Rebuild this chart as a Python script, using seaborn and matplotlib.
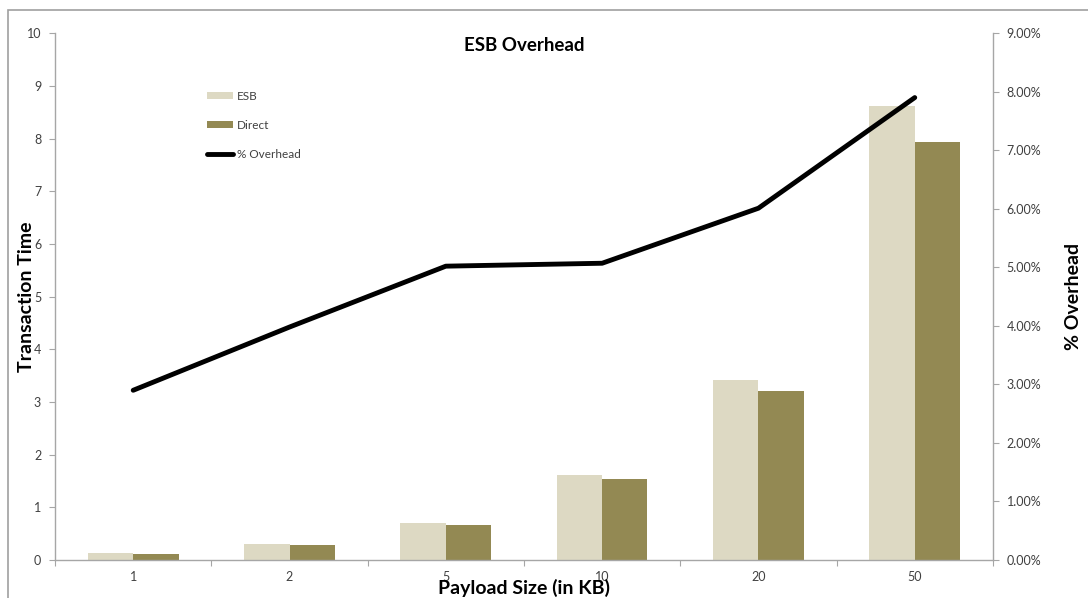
import numpy as np
import pandas as pd
import matplotlib
matplotlib.use("Agg")
import matplotlib.pyplot as plt
from matplotlib.patches import Rectangle
from matplotlib.ticker import FixedLocator, PercentFormatter
import seaborn as sns

# Payload sizes (KB) and measured transaction times
payloads = ["1", "2", "5", "10", "20", "50"]
esb_time = [0.13, 0.30, 0.70, 1.62, 3.42, 8.61]
direct_time = [0.12, 0.28, 0.67, 1.53, 3.21, 7.94]
overhead_pct = [2.90, 3.98, 5.02, 5.07, 6.01, 7.90]

series_names = ["ESB", "Direct"]
bar_colors = ["#DDD9C3", "#938953"]
spine_gray = "#A6A6A6"
text_gray = "#404040"

sns.set_theme(style="white")
plt.rcParams["font.family"] = ["Lato", "DejaVu Sans"]

df = pd.DataFrame({
    "Payload": payloads * 2,
    "Time": esb_time + direct_time,
    "Series": [series_names[0]] * len(payloads) + [series_names[1]] * len(payloads),
})

fig = plt.figure(figsize=(10.88, 5.98), dpi=100)
ax = fig.add_axes([0.0506, 0.0635, 0.862, 0.881])

sns.barplot(data=df, x="Payload", y="Time", hue="Series", order=payloads,
            hue_order=series_names, palette=bar_colors, width=0.58,
            saturation=1, linewidth=0, ax=ax, legend=True)

ax.set_ylim(0, 10)
ax.set_xlim(-0.5, len(payloads) - 0.5)
ax.set_yticks(range(0, 11))

# category boundaries carry the tick marks, centers carry the labels
ax.xaxis.set_major_locator(FixedLocator(np.arange(-0.5, len(payloads), 1.0)))
ax.xaxis.set_minor_locator(FixedLocator(np.arange(len(payloads))))
ax.set_xticklabels([""] * (len(payloads) + 1))
ax.set_xticklabels(payloads, minor=True)
ax.tick_params(axis="x", which="major", length=4, width=0.8, color=spine_gray, direction="out", bottom=True)
ax.tick_params(axis="x", which="minor", length=0, labelsize=9, labelcolor=text_gray, pad=8)
ax.tick_params(axis="y", length=4, width=0.8, color=spine_gray, direction="out", left=True,
               labelsize=9, labelcolor=text_gray, pad=6)

for side in ["top", "right"]:
    ax.spines[side].set_visible(False)
for side in ["left", "bottom"]:
    ax.spines[side].set_color(spine_gray)
    ax.spines[side].set_linewidth(1.0)

ax.set_ylabel("Transaction Time", fontsize=14, fontweight="bold", color="black")
ax.yaxis.set_label_coords(-0.021, 0.5)
ax.set_xlabel("Payload Size (in KB)", fontsize=14, fontweight="bold", color="black")
ax.xaxis.set_label_coords(0.5, -0.036)
ax.set_title("ESB Overhead", fontsize=13.5, fontweight="bold", color="black", pad=-13, y=1.0)

# overhead percentage on a secondary axis
ax2 = ax.twinx()
sns.lineplot(x=np.arange(len(payloads)), y=overhead_pct, color="black", linewidth=3.5,
             ax=ax2, label="% Overhead", legend=False)
ax2.set_ylim(0, 9)
ax2.set_xlim(-0.5, len(payloads) - 0.5)
ax2.set_yticks(range(0, 10))
ax2.yaxis.set_major_formatter(PercentFormatter(decimals=2))
ax2.tick_params(axis="y", length=4, width=0.8, color=spine_gray, direction="out", right=True,
                labelsize=9, labelcolor=text_gray, pad=6)
for side in ["top", "left", "bottom"]:
    ax2.spines[side].set_visible(False)
ax2.spines["right"].set_color(spine_gray)
ax2.spines["right"].set_linewidth(1.0)
ax2.set_ylabel("% Overhead", fontsize=14, fontweight="bold", color="black")
ax2.yaxis.set_label_coords(1.077, 0.5)

handles, labels = ax.get_legend_handles_labels()
h2, l2 = ax2.get_legend_handles_labels()
ax.get_legend().remove()
leg = ax2.legend(handles + h2, labels + l2, loc="upper left", bbox_to_anchor=(0.157, 0.9),
                 frameon=False, fontsize=8.5, labelspacing=1.55, handlelength=2.2,
                 handleheight=0.6, handletextpad=0.3, borderaxespad=0)
for t in leg.get_texts():
    t.set_color(text_gray)

# outer chart-area border
fig.patches.append(Rectangle((8 / 1088, -0.01), 1.02, 1 - 10 / 598 + 0.01,
                             transform=fig.transFigure, fill=False,
                             edgecolor="#A0A0A0", linewidth=1.2))

fig.savefig("out.png", dpi=100)
